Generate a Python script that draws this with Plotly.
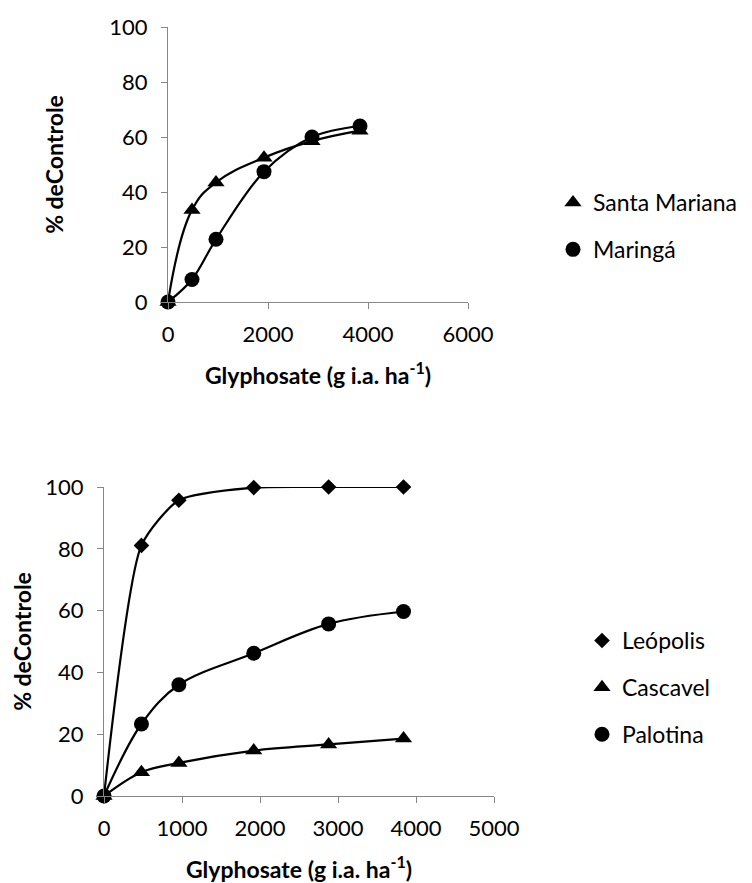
import plotly.graph_objects as go

# ---- data ----
dose = [0, 480, 960, 1920, 2880, 3840]

santa_mariana = [0, 33.5, 43.5, 52.5, 58.5, 62.3]
maringa = [0, 8.2, 22.8, 47.4, 60.0, 64.0]

leopolis = [0, 81.1, 95.7, 99.8, 100, 100]
cascavel = [0, 7.7, 10.7, 14.7, 16.7, 18.6]
palotina = [0, 23.3, 36.0, 46.2, 55.7, 59.7]

y_title = "<b>% deControle</b>"
x_title = "<b>Glyphosate (g i.a. ha<sup>-1</sup>)</b>"

FONT = "Lato, 'Open Sans', sans-serif"
AX = "#868686"

fig = go.Figure()

def add_series(x, y, name, symbol, size, xa, ya, legend, smooth=1.0):
    fig.add_trace(go.Scatter(x=x, y=y, mode="lines", line=dict(color="black", width=2.2, shape="spline", smoothing=smooth),
                             xaxis=xa, yaxis=ya, showlegend=False, hoverinfo="skip", cliponaxis=False,
                             legendgroup=name, legend=legend))
    fig.add_trace(go.Scatter(x=x, y=y, mode="markers", name=name, legendgroup=name,
                             marker=dict(symbol=symbol, size=size, color="black"), cliponaxis=False,
                             xaxis=xa, yaxis=ya, legend=legend))

add_series(dose, santa_mariana, "Santa Mariana", "triangle-up", 15, "x", "y", "legend", 1.2)
add_series(dose, maringa, "Maringá", "circle", 15, "x", "y", "legend")
add_series(dose, leopolis, "Leópolis", "diamond", 12, "x2", "y2", "legend2", 0.6)
add_series(dose, cascavel, "Cascavel", "triangle-up", 15, "x2", "y2", "legend2")
add_series(dose, palotina, "Palotina", "circle", 15, "x2", "y2", "legend2")

# page body has an 8px margin; the figure is sized to fit the viewport
OFF = 8
W, H = 752 - OFF, 883 - OFF

def xd(a, b):
    return [(a - OFF) / W, (b - OFF) / W]

def yd(top, bottom):
    return [1 - (bottom - OFF) / H, 1 - (top - OFF) / H]

axis_common = dict(showline=True, linecolor=AX, linewidth=1.3, showgrid=False, zeroline=False,
                   ticks="outside", ticklen=6, tickcolor=AX, automargin=False,
                   tickfont=dict(family=FONT, size=22, color="black"))

TF = dict(family=FONT, size=23, color="black")

fig.update_layout(
    width=W, height=H,
    margin=dict(l=0, r=0, t=0, b=0),
    paper_bgcolor="white", plot_bgcolor="white",
    font=dict(family=FONT, color="black"),
    xaxis=dict(domain=xd(168, 468), range=[0, 6000], dtick=2000, anchor="y", ticklabelstandoff=6,
               title=dict(text=x_title, font=TF, standoff=22), **axis_common),
    yaxis=dict(domain=yd(27, 302), range=[0, 100], dtick=20, anchor="x", ticklabelstandoff=9,
               title=dict(text=y_title, font=TF, standoff=39), **axis_common),
    xaxis2=dict(domain=xd(104, 494), range=[0, 5000], dtick=1000, anchor="y2", ticklabelstandoff=6,
                title=dict(text=x_title, font=TF, standoff=22), **axis_common),
    yaxis2=dict(domain=yd(487, 796), range=[0, 100], dtick=20, anchor="x2", ticklabelstandoff=9,
                title=dict(text=y_title, font=TF, standoff=7), **axis_common),
    legend=dict(x=545 / W, y=1 - 173 / H, xanchor="left", yanchor="top",
                font=dict(family=FONT, size=23), tracegroupgap=14, traceorder="grouped",
                bgcolor="rgba(0,0,0,0)", itemwidth=30),
    legend2=dict(x=574 / W, y=1 - 611 / H, xanchor="left", yanchor="top",
                 font=dict(family=FONT, size=23), tracegroupgap=14, traceorder="grouped",
                 bgcolor="rgba(0,0,0,0)", itemwidth=30),
)

fig.write_html("out.html")
